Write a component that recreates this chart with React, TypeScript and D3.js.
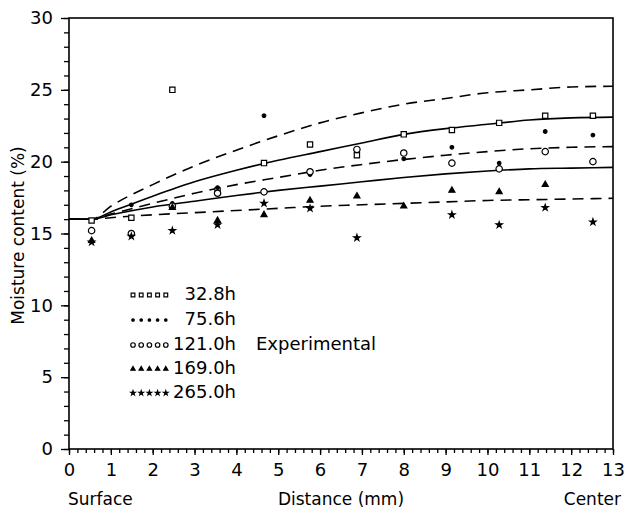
import React, { useEffect, useRef } from "react";
import * as d3 from "d3";

// model curves at these distances
const curveX = [0, 0.55, 1, 2, 3, 4, 5, 6, 7, 8, 9, 10, 11, 12, 13];
const curve1 = [16, 16, 16.9, 18.4, 19.7, 20.8, 21.8, 22.7, 23.4, 24.0, 24.4, 24.8, 25.0, 25.2, 25.25];
const curve2 = [16, 16, 16.5, 17.6, 18.6, 19.4, 20.1, 20.7, 21.3, 21.9, 22.3, 22.6, 22.9, 23.05, 23.1];
const curve3 = [16, 16, 16.35, 17.1, 17.8, 18.4, 18.9, 19.4, 19.8, 20.15, 20.45, 20.7, 20.9, 21.0, 21.05];
const curve4 = [16, 16, 16.3, 16.85, 17.25, 17.65, 18.0, 18.3, 18.6, 18.9, 19.15, 19.35, 19.5, 19.55, 19.6];
const curve5 = [16, 16, 16.1, 16.3, 16.45, 16.6, 16.75, 16.9, 17.0, 17.1, 17.2, 17.3, 17.35, 17.4, 17.45];
const curveDashed = [true, false, true, false, true];

// experimental points [distance, moisture]
const exp328 = [[0.54, 15.9], [1.49, 16.1], [2.47, 25.0], [3.55, 18.0], [4.66, 19.9], [5.76, 21.2], [6.88, 20.45], [8.0, 21.9], [9.15, 22.2], [10.28, 22.7], [11.38, 23.2], [12.52, 23.2]];
const exp756 = [[1.49, 17.0], [2.47, 17.1], [3.55, 18.2], [4.66, 23.2], [5.76, 19.1], [8.0, 20.2], [9.15, 21.0], [10.28, 19.9], [11.38, 22.1], [12.52, 21.85]];
const exp121 = [[0.54, 15.2], [1.49, 15.0], [2.47, 16.9], [3.55, 17.8], [4.66, 17.9], [5.76, 19.3], [6.88, 20.85], [8.0, 20.6], [9.15, 19.9], [10.28, 19.5], [11.38, 20.7], [12.52, 20.0]];
const exp169 = [[0.54, 14.5], [2.47, 16.8], [3.55, 15.9], [4.66, 16.3], [5.76, 17.3], [6.88, 17.6], [8.0, 16.9], [9.15, 18.0], [10.28, 17.9], [11.38, 18.4]];
const exp265 = [[0.54, 14.4], [1.49, 14.8], [2.47, 15.2], [3.55, 15.6], [4.66, 17.1], [5.76, 16.75], [6.88, 14.7], [9.15, 16.3], [10.28, 15.6], [11.38, 16.8], [12.52, 15.8]];

const seriesLabels = ["32.8h", "75.6h", "121.0h", "169.0h", "265.0h"];
const xTicks = d3.range(0, 14);
const yTicks = [0, 5, 10, 15, 20, 25, 30];

const FONT = "'DejaVu Sans', sans-serif";

export default function App() {
  const ref = useRef<SVGSVGElement>(null);

  useEffect(() => {
    const svg = d3.select(ref.current);
    svg.selectAll("*").remove();

    const left = 69, right = 613, top = 18, bottom = 449;
    const x = d3.scaleLinear().domain([0, 13]).range([left, right]);
    const y = d3.scaleLinear().domain([0, 30]).range([bottom, top]);

    const g = svg.append("g");

    // frame
    g.append("rect")
      .attr("x", left).attr("y", top)
      .attr("width", right - left).attr("height", bottom - top)
      .attr("fill", "none").attr("stroke", "#000").attr("stroke-width", 1.6);

    // x axis ticks
    const xAxis = g.append("g").attr("transform", `translate(0,${bottom})`);
    xAxis.call(d3.axisBottom(x).tickValues(d3.range(0, 13.01, 0.2)).tickSize(4).tickFormat(() => ""));
    xAxis.select(".domain").remove();
    const xMajor = g.append("g").attr("transform", `translate(0,${bottom})`);
    xMajor.call(d3.axisBottom(x).tickValues(xTicks).tickSize(6).tickPadding(8).tickFormat(d3.format("d")));
    xMajor.select(".domain").remove();
    xMajor.selectAll("text").attr("font-family", FONT).attr("font-size", 18).attr("fill", "#000");

    // y axis ticks
    const yMinor = g.append("g").attr("transform", `translate(${left},0)`);
    yMinor.call(d3.axisLeft(y).tickValues(d3.range(0, 31, 1)).tickSize(5).tickFormat(() => ""));
    yMinor.select(".domain").remove();
    const yMajor = g.append("g").attr("transform", `translate(${left},0)`);
    yMajor.call(d3.axisLeft(y).tickValues(yTicks).tickSize(8).tickPadding(8).tickFormat(d3.format("d")));
    yMajor.select(".domain").remove();
    yMajor.selectAll("text").attr("font-family", FONT).attr("font-size", 18).attr("fill", "#000");
    g.selectAll(".tick line").attr("stroke", "#000").attr("stroke-width", 1.3);

    // axis titles
    g.append("text")
      .attr("transform", `translate(24,${(top + bottom) / 2 + 2}) rotate(-90)`)
      .attr("text-anchor", "middle")
      .attr("font-family", FONT).attr("font-size", 17)
      .text("Moisture content (%)");
    g.append("text").attr("x", left - 1).attr("y", 505)
      .attr("font-family", FONT).attr("font-size", 17).text("Surface");
    g.append("text").attr("x", x(6.5)).attr("y", 505).attr("text-anchor", "middle")
      .attr("font-family", FONT).attr("font-size", 17).text("Distance (mm)");
    g.append("text").attr("x", 621).attr("y", 505).attr("text-anchor", "end")
      .attr("font-family", FONT).attr("font-size", 17).text("Center");

    // model curves
    const line = d3.line<[number, number]>()
      .x(d => x(d[0]))
      .y(d => y(d[1]))
      .curve(d3.curveMonotoneX);
    [curve1, curve2, curve3, curve4, curve5].forEach((c, i) => {
      g.append("path")
        .datum(curveX.map((v, j) => [v, c[j]] as [number, number]))
        .attr("d", line)
        .attr("fill", "none")
        .attr("stroke", "#000")
        .attr("stroke-width", 1.6)
        .attr("stroke-dasharray", curveDashed[i] ? "11,7" : null);
    });

    // markers
    const markers = [
      { type: d3.symbolSquare, size: 28, fill: "#fff" },
      { type: d3.symbolCircle, size: 10, fill: "#000" },
      { type: d3.symbolCircle, size: 32, fill: "#fff" },
      { type: d3.symbolTriangle, size: 16, fill: "#000" },
      { type: d3.symbolStar, size: 12, fill: "#000" },
    ];
    const drawMarker = (sel: any, m: any, px: number, py: number, scale = 1) => {
      sel.append("path")
        .attr("d", d3.symbol().type(m.type).size(m.size * scale)())
        .attr("transform", `translate(${px},${py})`)
        .attr("fill", m.fill)
        .attr("stroke", "#000")
        .attr("stroke-width", 1.2);
    };

    [exp328, exp756, exp121, exp169, exp265].forEach((pts, i) => {
      const mg = g.append("g");
      pts.forEach(p => drawMarker(mg, markers[i], x(p[0]), y(p[1])));
    });

    // legend
    const legendY = [294, 319, 344, 368, 392];
    seriesLabels.forEach((lab, i) => {
      const lg = g.append("g");
      for (let k = 0; k < 5; k++) {
        drawMarker(lg, markers[i], 133 + k * 8.2, legendY[i] + 1, 0.5);
      }
      lg.append("text")
        .attr("x", 236).attr("y", legendY[i]).attr("dy", "0.36em")
        .attr("text-anchor", "end")
        .attr("font-family", FONT).attr("font-size", 18)
        .text(lab);
    });
    g.append("text")
      .attr("x", 256).attr("y", legendY[2]).attr("dy", "0.36em")
      .attr("font-family", FONT).attr("font-size", 18)
      .text("Experimental");
  }, []);

  return (
    <svg ref={ref} width={629} height={514}
      style={{ position: "absolute", left: 0, top: 0, background: "#fff" }} />
  );
}
